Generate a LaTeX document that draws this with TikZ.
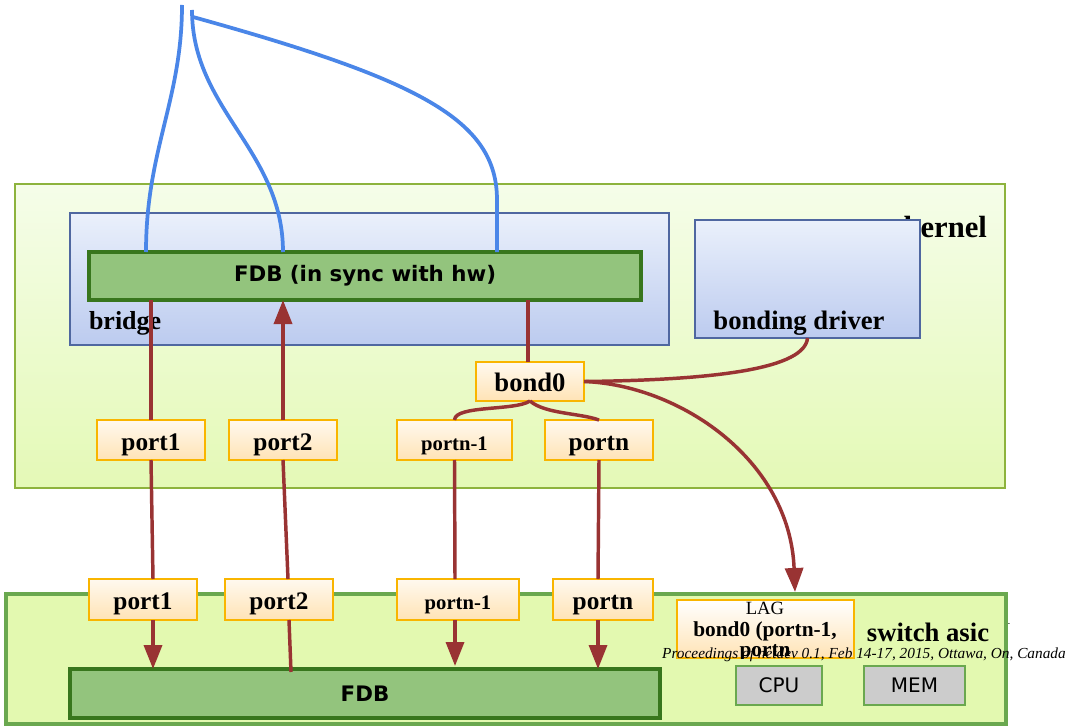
\documentclass[tikz,border=0pt]{standalone}
\usepackage{fontspec}
\setmainfont{Liberation Serif}
\newfontfamily\dejavu{DejaVu Sans}
\usetikzlibrary{arrows.meta,calc}
\definecolor{kbord}{HTML}{8DB33D}
\definecolor{ktop}{HTML}{F5FDE9}
\definecolor{kbot}{HTML}{E4F9B6}
\definecolor{bbord}{HTML}{4F67A0}
\definecolor{btop}{HTML}{EAF0FB}
\definecolor{bbot}{HTML}{BCCBEF}
\definecolor{fdbfill}{HTML}{93C47D}
\definecolor{fdbbord}{HTML}{38761D}
\definecolor{pbord}{HTML}{F9B500}
\definecolor{ptop}{HTML}{FFF9EF}
\definecolor{pbot}{HTML}{FFE3B5}
\definecolor{sfill}{HTML}{E3F9B0}
\definecolor{sbord}{HTML}{6AA84F}
\definecolor{grayfill}{HTML}{CCCCCC}
\definecolor{myred}{HTML}{993333}
\definecolor{myblue}{HTML}{4A86E8}
\begin{document}
\begin{tikzpicture}[x=0.75pt,y=-0.75pt,
  every node/.style={inner sep=0pt,outer sep=0pt},
  redline/.style={draw=myred,line width=2.6pt},
  redarrow/.style={redline,-{Triangle[width=13.5pt,length=18pt]}},
  blueline/.style={draw=myblue,line width=2.8pt},
  portbox/.style={draw=pbord,line width=1.5pt,top color=ptop,bottom color=pbot,minimum height=30pt,text height=17pt,text depth=2pt,font=\bfseries\fontsize{19}{19}\selectfont},
  smallport/.style={portbox,font=\bfseries\fontsize{15.5}{15.5}\selectfont},
  bluebox/.style={draw=bbord,line width=1.2pt,top color=btop,bottom color=bbot},
  fdbbox/.style={draw=fdbbord,line width=2.6pt,fill=fdbfill},
  graybox/.style={draw=sbord,line width=1.5pt,fill=grayfill,minimum height=29.25pt,font=\dejavu\fontsize{15}{15}\selectfont},
  boldlbl/.style={font=\bfseries\fontsize{20}{20}\selectfont}
]
\useasboundingbox (0,0) rectangle (1066,727);
\fill[white] (0,0) rectangle (1066,727);

% kernel area
\node[draw=kbord,line width=1.2pt,top color=ktop,bottom color=kbot,minimum width=742.5pt,minimum height=228pt] (kernel) at (510,336) {};
\node[anchor=base east,font=\bfseries\fontsize{23}{23}\selectfont] (kernellbl) at (987,238) {kernel};
\node[bluebox,minimum width=449.25pt,minimum height=99pt] (bridge) at (369.5,279) {};
\node[anchor=base west,font=\bfseries\fontsize{19.5}{19.5}\selectfont] (bridgelbl) at (89,329) {bridge};
\node[bluebox,minimum width=168.75pt,minimum height=88.5pt] (bd) at (807.5,279) {};
\node[anchor=base,boldlbl] (bdlbl) at (799,329) {bonding driver};
\node[fdbbox,minimum width=414pt,minimum height=36pt,font=\dejavu\bfseries\fontsize{16}{16}\selectfont] (fdbk) at (365,276) {FDB (in sync with hw)};

\node[portbox,minimum width=81pt,minimum height=29.25pt,font=\bfseries\fontsize{20}{20}\selectfont] (bond0) at (530,381.5) {bond0};
\node[portbox,minimum width=81pt] (kp1) at (151,440) {port1};
\node[portbox,minimum width=81pt] (kp2) at (283,440) {port2};
\node[smallport,minimum width=86.25pt] (kpn1) at (454.5,440) {portn-1};
\node[portbox,minimum width=81pt] (kpn) at (599,440) {portn};

% switch asic area
\node[font=\fontsize{16}{16}\selectfont,text=black!80] (pg) at (1006,617) {1};
\node[draw=sbord,line width=2.4pt,fill=sfill,minimum width=750pt,minimum height=97.5pt] (asic) at (506,659) {};
\node[anchor=base,boldlbl] (asiclbl) at (928,641) {switch asic};
\node[fdbbox,minimum width=442.5pt,minimum height=36.75pt,font=\dejavu\bfseries\fontsize{16}{16}\selectfont] (fdbb) at (365,693.5) {FDB};
\node[graybox,minimum width=64.5pt] (cpu) at (779,685.5) {CPU};
\node[graybox,minimum width=75.75pt] (mem) at (914.5,685.5) {MEM};
\node[draw=pbord,line width=1.5pt,top color=white,bottom color=pbot,minimum width=132.75pt,minimum height=43.5pt] (lag) at (765.5,629) {};
\begin{scope}
\clip (lag.south west) rectangle (lag.north east);
\node[font=\fontsize{14}{14}\selectfont] (laglbl) at (765,608) {LAG};
\node[font=\bfseries\fontsize{16}{16}\selectfont] (lagbond) at (765,631) {bond0 (portn-1,};
\node[font=\bfseries\fontsize{16}{16}\selectfont] (lagportn) at (765,653) {portn};
\end{scope}

\node[portbox,minimum width=81pt,minimum height=30.75pt] (sp1) at (143,599.5) {port1};
\node[portbox,minimum width=81pt,minimum height=30.75pt] (sp2) at (279,599.5) {port2};
\node[smallport,minimum width=91.5pt,minimum height=30.75pt] (spn1) at (458,599.5) {portn-1};
\node[portbox,minimum width=75pt,minimum height=30.75pt] (spn) at (603,599.5) {portn};

% blue connectors
\coordinate (t1) at (182,5);
\coordinate (t2) at (192,10);
\coordinate (t3) at (193,17);
\draw[blueline] (t1) .. controls (182,100) and (146,150) .. ($(fdbk.north west)+(57,0)$);
\draw[blueline] (t2) .. controls (192,110) and (283,150) .. ($(fdbk.north west)+(194,0)$);
\draw[blueline] (t3) .. controls (420,80) and (497,120) .. (497,200) -- ($(fdbk.north west)+(408,0)$);

% red connectors in kernel
\draw[redline] (kp1.north) -- (kp1.north |- fdbk.south);
\draw[redarrow] (kp2.north) -- (kp2.north |- fdbk.south);
\draw[redline] ($(bond0.north)+(-2,0)$) -- ($(bond0.north |- fdbk.south)+(-2,0)$);
\draw[redline] (bond0.south) .. controls (515,411) and (455,405) .. (kpn1.north);
\draw[redline] (bond0.south) .. controls (545,414) and (580,413) .. (kpn.north);
\draw[redline] (bond0.east) .. controls (720,380) and (805,368) .. (bd.south);
\draw[redarrow] (bond0.east) .. controls (680,385) and (790,460) .. ($(lag.north)+(29.5,-8)$);

% kernel ports to asic ports
\draw[redline] (kp1.south) -- ($(sp1.north)+(10,0)$);
\draw[redline] (kp2.south) -- ($(sp2.north)+(9,0)$);
\draw[redline] (kpn1.south) -- ($(spn1.north)+(-3,0)$);
\draw[redline] (kpn.south) -- ($(spn.north)+(-5,0)$);

% asic ports to FDB
\coordinate (a1) at ($(sp1.south)+(10,0)$);
\coordinate (a2) at ($(sp2.south)+(10,0)$);
\coordinate (a3) at ($(spn1.south)+(-3,0)$);
\coordinate (a4) at ($(spn.south)+(-5,0)$);
\draw[redarrow] (a1) -- (a1 |- fdbb.north);
\draw[redline] (a2) -- ($(a2 |- fdbb.north)+(2,3)$);
\draw[redarrow] (a3) -- ($(a3 |- fdbb.north)+(0,-3)$);
\draw[redarrow] (a4) -- (a4 |- fdbb.north);

\node[font=\itshape\fontsize{11.5}{11.5}\selectfont] (proc) at (864,655) {Proceedings of netdev 0.1, Feb 14-17, 2015, Ottawa, On, Canada};
\end{tikzpicture}
\end{document}
